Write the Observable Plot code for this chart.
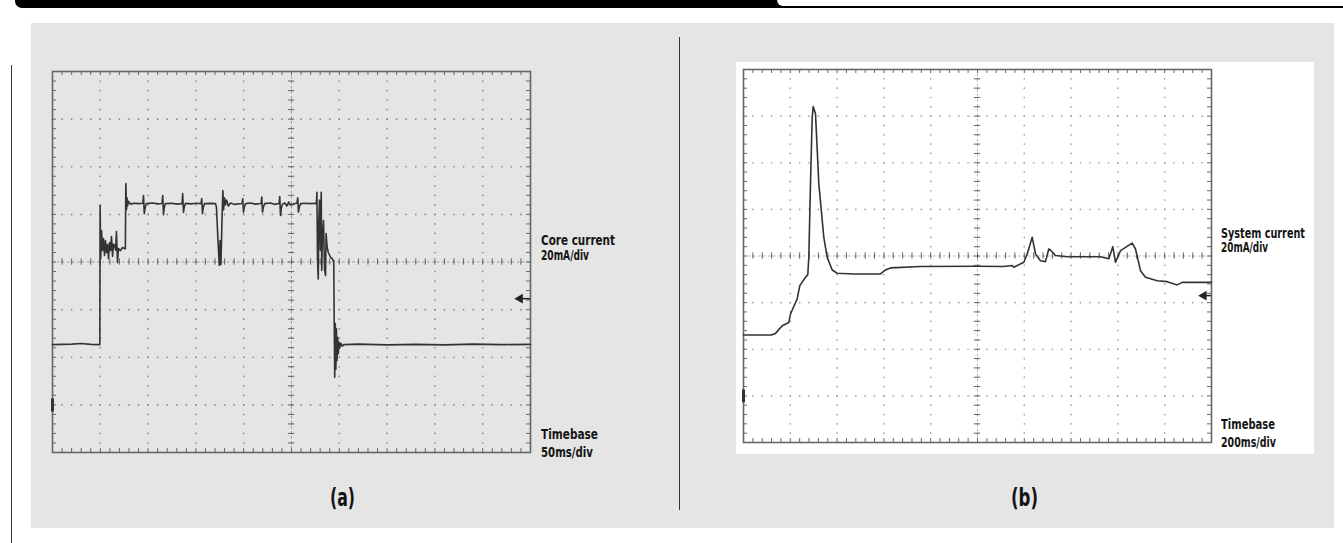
<!DOCTYPE html>
<html>
<head>
<meta charset="utf-8">
<script src="https://cdn.jsdelivr.net/npm/d3@7"></script>
<script src="https://cdn.jsdelivr.net/npm/@observablehq/plot@0.6"></script>
<style>
  html, body { margin: 0; padding: 0; background: #fff; }
  #root { position: relative; width: 1343px; height: 543px; overflow: hidden; background: #fff; }
  .abs { position: absolute; }
  .lbl { position: absolute; font-family: "DejaVu Sans", sans-serif; font-weight: bold; line-height: 1; white-space: nowrap; transform-origin: 0 0; color: #141414; }
</style>
</head>
<body>
<div id="root"></div>
<script>
// ---------- Data ----------
// Panel (a): core current, timebase 50 ms/div, 20 mA/div (current relative to the centre graticule line)
const timeA = [0,20,30,40,49.5,49.8,50.4,51.3,52.3,53.3,54.4,55.4,56.5,57.5,58.6,59.6,60.7,61.7,62.8,63.8,64.9,66.0,66.9,68.0,69.0,71.1,73.2,75.3,76.2,76.7,77.4,77.9,78.5,79.5,81.6,85,90,94.5,95.2,96.0,96.8,98,105,110,114.6,115.3,116.1,116.9,118,125,130,135.5,136.2,137.0,137.8,139,145,150,155.4,156.1,156.9,157.7,159,165,170.5,171.5,173.0,174.5,175.3,176.2,177.2,178.2,179.0,179.9,181,182,184,186.2,190,198.3,199.0,199.8,200.6,202,207,212,218.2,218.9,219.7,220.5,222,228,232,237,237.7,238.5,239.3,240.5,243,245,247,249,255.8,256.5,257.3,258.1,259.5,265,270,275.1,276,276.6,277.2,278.0,278.6,279.3,280.2,281.1,281.6,282.3,283.5,284.5,285.6,286.2,287.3,288.5,290.8,292.5,293.6,294.2,294.6,295.2,295.8,296.4,297.0,297.6,298.3,299.0,299.7,300.5,301.5,303,304.7,320,350,380,410,440,470,500];
const currentA = [-34.7,-34.5,-34.2,-34.6,-34.7,23.7,1.4,13.2,4.8,9.8,2.7,9.0,3.9,7.3,1.4,8.2,4.8,10.7,2.3,7.5,6.9,5,12.8,-0.3,5.6,4.8,6.1,5.6,5.6,32.9,22,27,23.5,25.5,24.3,24.7,24.5,24.7,27.9,20.3,22.5,24.5,24.8,24.4,24.6,27.9,19.9,22.8,24.5,24.7,24.3,24.5,28.7,20.8,23,24.6,24.4,24.7,24.5,26.6,20.3,22.8,24.5,24.6,24.5,23.0,10,-1.5,9.0,-1.0,16,30.0,22,27,24,26,23.5,24.8,24.2,24.6,26.5,20.9,23,24.5,24.8,24.3,24.6,27.3,20.9,23,24.5,24.8,24.2,24.6,27.5,19.5,22.5,24.3,24.8,23.5,25.2,24,24.8,27,20.9,23,24.5,24.7,24.5,24.7,24.3,29.3,0.6,-7.1,18,26,5,29.3,-3.6,10,17.4,-3,-5.7,11.9,6.2,4,2.0,1.5,0.6,0.6,-21.1,-48.4,-25.9,-45,-28.0,-41.4,-31.6,-38.5,-33.7,-36.1,-34.0,-35.3,-34.7,-34.5,-34.8,-34.6,-34.8,-34.5,-34.7,-34.6];

// Panel (b): system current, timebase 200 ms/div, 20 mA/div
const timeB = [0,118.4,136.8,165.4,193.6,200.9,229.5,240.6,265.0,274.8,279.1,286.3,293.6,297.9,307.7,321.8,343.2,357.7,379.1,400.4,471.4,585.5,606.8,628.2,756.4,998.7,1112.4,1148.3,1155.1,1197.9,1212.4,1233.8,1247.9,1269.2,1290.6,1304.7,1311.9,1333.3,1383.3,1525.6,1561.1,1578.2,1589.7,1611.1,1632.5,1661.1,1675.2,1696.6,1717.9,1767.9,1810.7,1853.4,1874.8,1953.0,2000];
const currentB = [-33.9,-33.9,-33.2,-29.9,-28.5,-24.9,-18.4,-12.7,-9.1,-8.0,-0.6,31.1,59.5,64.1,61.0,31.1,8.0,-0.6,-6.0,-7.4,-7.7,-7.7,-6.0,-5.1,-4.5,-4.4,-4.5,-4.1,-4.8,-2.7,0.9,8.0,0.9,-2.0,-2.4,3.0,2.6,0.2,-0.3,-0.3,-1.2,4.0,-2.7,2.3,3.7,5.5,3.0,-6.3,-9.1,-10.6,-11.0,-12.4,-11.3,-11.3,-11.3];

// Screen settings and markers
const timeSpanA = 500, timeSpanB = 2000;     // 10 divisions
const currentSpan = [-80, 80];               // 8 divisions of 20 mA
const triggerA = [{t: 489, i: -15.4}];
const triggerB = [{t: 1967, i: -17.0}];
const groundMark = [{i1: -57.5, i2: -63.0}];

const labelsA = ["Core current", "20mA/div", "Timebase", "50ms/div"];
const labelsB = ["System current", "20mA/div", "Timebase", "200ms/div"];
const panelNames = ["(a)", "(b)"];

// ---------- Page furniture ----------
const root = document.getElementById("root");
function box(css) { const d = document.createElement("div"); d.className = "abs"; d.style.cssText += css; root.append(d); return d; }
box("left:15px;top:0;width:1328px;height:7.5px;background:#000;border-bottom-left-radius:7px;");
box("left:777px;top:0;width:566px;height:6px;background:#fff;border-bottom-left-radius:9px;");
box("left:31px;top:23px;width:1303px;height:505px;background:#e5e5e5;");
box("left:11px;top:65px;width:1px;height:478px;background:#333;");
box("left:679px;top:37px;width:1px;height:473px;background:#333;");
box("left:736px;top:62px;width:578px;height:392px;background:#fff;");

function scope({tMax, plotW, plotH, t, v, trigger, dotColor, frameColor}) {
  const data = t.map((x, k) => ({t: x, i: v[k]}));
  const tDiv = tMax / 10;
  const pxT = tMax / plotW, pxI = 160 / plotH;  // data units per pixel
  const tMinor = d3.range(0, tMax + 1e-6, tDiv / 5);
  const iMinor = d3.range(-80, 80 + 1e-6, 4);
  const tMajor = d3.range(1, 10).map(k => k * tDiv);
  const iMajor = d3.range(-3, 4).map(k => k * 20);
  const gridPts = [
    ...tMajor.flatMap(x => iMinor.map(y => ({t: x, i: y}))),
    ...iMajor.flatMap(y => tMinor.map(x => ({t: x, i: y})))
  ];
  const cross = 3.2, edge = 4;
  return [
    Plot.dot(gridPts, {x: "t", y: "i", r: 0.85, fill: dotColor, stroke: "none"}),
    Plot.ruleY([0], {stroke: dotColor, strokeWidth: 0.8, strokeDasharray: "2.5,2.5"}),
    Plot.ruleX([tMax / 2], {stroke: dotColor, strokeWidth: 0.8, strokeDasharray: "2.5,2.5"}),
    Plot.ruleX(tMinor, {x: d => d, y1: -cross * pxI, y2: cross * pxI, stroke: frameColor, strokeWidth: 1}),
    Plot.ruleY(iMinor, {y: d => d, x1: tMax / 2 - cross * pxT, x2: tMax / 2 + cross * pxT, stroke: frameColor, strokeWidth: 1}),
    Plot.ruleX(tMinor, {x: d => d, y1: 80, y2: 80 - edge * pxI, stroke: frameColor, strokeWidth: 1}),
    Plot.ruleX(tMinor, {x: d => d, y1: -80, y2: -80 + edge * pxI, stroke: frameColor, strokeWidth: 1}),
    Plot.ruleY(iMinor, {y: d => d, x1: 0, x2: edge * pxT, stroke: frameColor, strokeWidth: 1}),
    Plot.ruleY(iMinor, {y: d => d, x1: tMax, x2: tMax - edge * pxT, stroke: frameColor, strokeWidth: 1}),
    Plot.frame({stroke: frameColor, strokeWidth: 1.6}),
    Plot.ruleX(groundMark, {x: 0, y1: "i1", y2: "i2", stroke: "#333", strokeWidth: 3}),
    Plot.line(data, {x: "t", y: "i", stroke: "#333", strokeWidth: 1.6, strokeLinejoin: "round"}),
    Plot.ruleY(trigger, {y: "i", x1: "t", x2: tMax, stroke: "#222", strokeWidth: 1.5}),
    Plot.dot(trigger, {x: "t", y: "i", symbol: "triangle", r: 3.6, rotate: -90, fill: "#222", stroke: "none"})
  ];
}

const svgA = Plot.plot({
  width: 649, height: 505,
  marginLeft: 21, marginRight: 150, marginTop: 48, marginBottom: 76,
  x: {domain: [0, timeSpanA], axis: null},
  y: {domain: currentSpan, axis: null},
  style: {background: "transparent", overflow: "visible"},
  marks: scope({tMax: timeSpanA, plotW: 478, plotH: 381, t: timeA, v: currentA, trigger: triggerA, dotColor: "#888", frameColor: "#666"})
});
svgA.style.position = "absolute"; svgA.style.left = "31px"; svgA.style.top = "23px";
root.append(svgA);

const svgB = Plot.plot({
  width: 654, height: 505,
  marginLeft: 63, marginRight: 123, marginTop: 46, marginBottom: 86,
  x: {domain: [0, timeSpanB], axis: null},
  y: {domain: currentSpan, axis: null},
  style: {background: "transparent", overflow: "visible"},
  marks: scope({tMax: timeSpanB, plotW: 468, plotH: 373, t: timeB, v: currentB, trigger: triggerB, dotColor: "#a0a0a0", frameColor: "#666"})
});
svgB.style.position = "absolute"; svgB.style.left = "680px"; svgB.style.top = "23px";
root.append(svgB);

function label(text, left, top, size, width, center) {
  const d = document.createElement("div");
  d.className = "lbl";
  d.textContent = text;
  d.style.fontSize = size + "px";
  root.append(d);
  const w = d.getBoundingClientRect().width;
  d.style.left = (center ? left - width / 2 : left) + "px";
  d.style.top = top + "px";
  d.style.transform = `scaleX(${width / w})`;
}
label(labelsA[0], 541, 234, 13.5, 74);
label(labelsA[1], 541, 249, 13.5, 48);
label(labelsA[2], 541, 428, 13.5, 57);
label(labelsA[3], 541, 446, 13.5, 52);
label(labelsB[0], 1221, 227, 13.5, 84);
label(labelsB[1], 1221, 241, 13.5, 47);
label(labelsB[2], 1221, 418, 13.5, 54);
label(labelsB[3], 1221, 436, 13.5, 55);
label(panelNames[0], 342, 486, 24, 25, true);
label(panelNames[1], 1024, 486, 24, 27, true);
</script>
</body>
</html>
